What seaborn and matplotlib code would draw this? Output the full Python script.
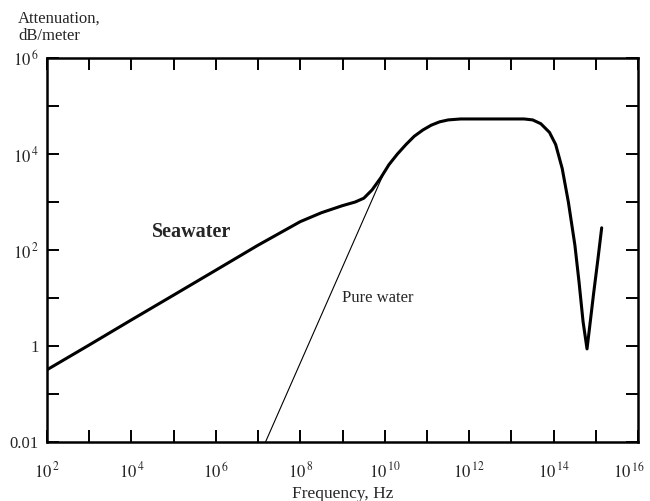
import matplotlib
matplotlib.use("Agg")
import matplotlib.pyplot as plt
import matplotlib.transforms as mtransforms
from matplotlib.ticker import FixedLocator, NullLocator
import seaborn as sns
import pandas as pd

# seawater attenuation curve (Hz, dB/m)
seawater_freq = [1e2, 1e3, 1e4, 1e5, 1e6, 1e7, 1e8, 3.2e8, 1e9, 2e9, 3.2e9,
                 5e9, 8e9, 1.26e10, 2e10, 3.2e10, 5e10, 8e10, 1.26e11, 2e11,
                 3.2e11, 6.3e11, 2e13, 3.2e13, 5e13, 8e13, 1.12e14, 1.6e14,
                 2.24e14, 3.2e14, 4e14, 5e14, 6.2e14, 7.4e14, 8.9e14,
                 1.12e15, 1.38e15]
seawater_att = [0.32, 1.05, 3.5, 11.5, 38, 126, 390, 600, 840, 1000, 1200,
                1780, 3160, 6000, 10000, 15800, 23400, 31600, 39800, 46800,
                51300, 53700, 53700, 51300, 42700, 28200, 15800, 5000,
                1000, 126, 22, 3.2, 0.87, 3.2, 12.6, 63, 290]

# pure water, straight line on the log-log axes
pure_freq = [1.5e7, 1e10]
pure_att = [0.01, 4400]

x_major = [1e2, 1e4, 1e6, 1e8, 1e10, 1e12, 1e14, 1e16]
x_labels = [r"$10^{\,2}$", r"$10^{\,4}$", r"$10^{\,6}$", r"$10^{\,8}$",
            r"$10^{\,10}$", r"$10^{\,12}$", r"$10^{\,14}$", r"$10^{\,16}$"]
y_major = [1e-2, 1, 1e2, 1e4, 1e6]
y_labels = ["0.01", "1", r"$10^{\,2}$", r"$10^{\,4}$", r"$10^{\,6}$"]

sns.set_style("ticks")
plt.rcParams["font.family"] = ["Liberation Serif", "DejaVu Serif"]
plt.rcParams["mathtext.fontset"] = "stix"

sea = pd.DataFrame({"freq": seawater_freq, "att": seawater_att})
pure = pd.DataFrame({"freq": pure_freq, "att": pure_att})

fig = plt.figure(figsize=(6.5, 5.01), dpi=100)
ax = fig.add_axes([47 / 650, 1 - 442 / 501, (638 - 47) / 650, (442 - 58) / 501])

sns.lineplot(data=sea, x="freq", y="att", sort=False, estimator=None,
             color="black", linewidth=2.2, ax=ax)
sns.lineplot(data=pure, x="freq", y="att", sort=False, estimator=None,
             color="black", linewidth=0.8, ax=ax)

ax.set_xscale("log")
ax.set_yscale("log")
ax.set_xlim(1e2, 1e16)
ax.set_ylim(1e-2, 1e6)

x_ticks = [10.0 ** k for k in range(2, 17)]
y_ticks = [10.0 ** k for k in range(-2, 7)]
ax.xaxis.set_major_locator(FixedLocator(x_ticks))
ax.yaxis.set_major_locator(FixedLocator(y_ticks))
ax.xaxis.set_minor_locator(NullLocator())
ax.yaxis.set_minor_locator(NullLocator())
ax.set_xticklabels([x_labels[x_major.index(v)] if v in x_major else ""
                    for v in x_ticks])
ax.set_yticklabels([y_labels[y_major.index(v)] if v in y_major else ""
                    for v in y_ticks])

ax.tick_params(which="both", direction="in", top=True, right=True,
               length=8.5, width=1.4, labelsize=12, color="black")
ax.tick_params(axis="x", pad=14)
ax.tick_params(axis="y", pad=6)
for s in ax.spines.values():
    s.set_linewidth(1.8)
    s.set_color("black")

# last x label sits a little left of its tick in the original
last = ax.get_xticklabels()[-1]
last.set_transform(last.get_transform() +
                   mtransforms.ScaledTranslation(-9 / 100, 0, fig.dpi_scale_trans))

ax.set_xlabel("Frequency, Hz", fontsize=12.5, labelpad=3)
ax.set_ylabel("")

ax.text(3.1e4, 237, "Seawater", fontsize=14.5, fontweight="bold",
        ha="left", va="center")
ax.text(1.0e9, 10, "Pure water", fontsize=12, ha="left", va="center")
fig.text(18 / 650, 1 - 27 / 501, "Attenuation,\ndB/meter", fontsize=12,
         ha="left", va="center", linespacing=1.1)

fig.savefig("out.png", dpi=100)
